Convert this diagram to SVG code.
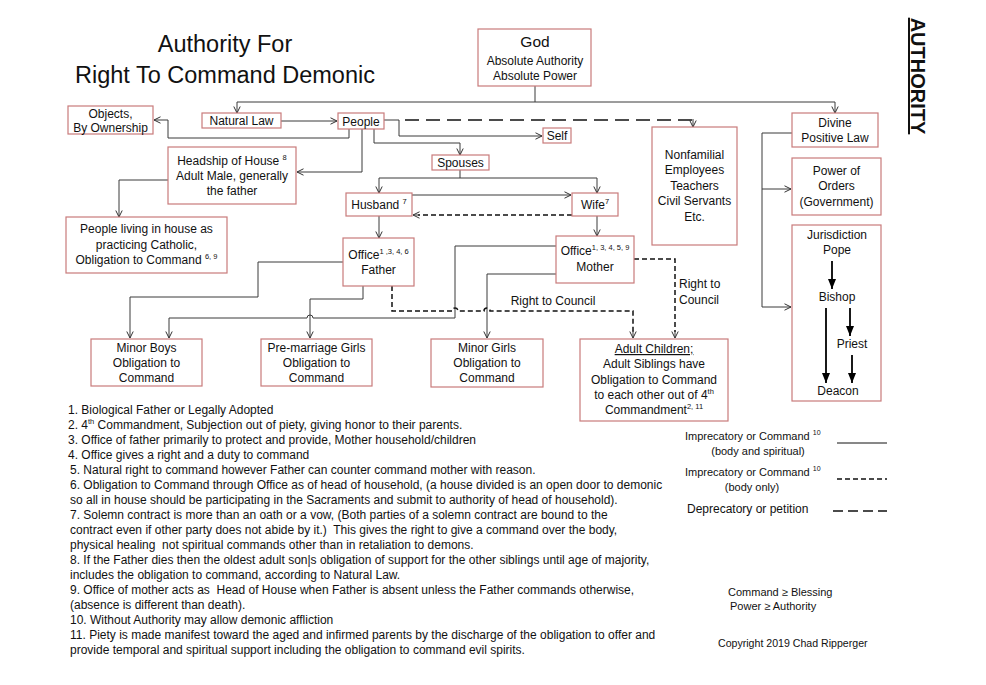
<svg xmlns="http://www.w3.org/2000/svg" width="986" height="685" viewBox="0 0 986 685">
<defs>
<marker id="oa" viewBox="0 0 8 8" refX="7.5" refY="4" markerWidth="8" markerHeight="8" markerUnits="userSpaceOnUse" orient="auto"><path d="M1,0.8 L7.5,4 L1,7.2" fill="none" stroke="#333" stroke-width="1"/></marker>
<marker id="fa" viewBox="0 0 10 8" refX="10" refY="4" markerWidth="10" markerHeight="8" markerUnits="userSpaceOnUse" orient="auto"><path d="M0,0 L10,4 L0,8 z" fill="#000"/></marker>
</defs>
<style>
.box{fill:#fff;stroke:#c97b7b;stroke-width:1.2}
.t{font-family:"Liberation Sans",Arial,sans-serif;font-size:12px;fill:#111;text-anchor:middle}
.fn{font-family:"Liberation Sans",Arial,sans-serif;font-size:12px;fill:#111}
.lg{font-family:"Liberation Sans",Arial,sans-serif;font-size:11px;fill:#111}
.sup{font-size:7.5px}
.c{fill:none;stroke:#3a3a3a;stroke-width:1}
.ca{marker-end:url(#oa)}
.d1{fill:none;stroke:#111;stroke-width:1.5;stroke-dasharray:5,3}
.d2{fill:none;stroke:#111;stroke-width:1.5;stroke-dasharray:14,7}
.th{fill:none;stroke:#000;stroke-width:1.8;marker-end:url(#fa)}
</style>
<rect width="986" height="685" fill="#fff"/>

<g id="title">
<text class="t" x="225" y="52" style="font-size:23.5px">Authority For</text>
<text class="t" x="225" y="83" style="font-size:23.5px">Right To Command Demonic</text>
</g>
<text transform="translate(911,76) rotate(90)" text-anchor="middle" font-family="Liberation Sans, Arial, sans-serif" font-size="20" font-weight="bold" text-decoration="underline" fill="#111">AUTHORITY</text>

<g id="connectors">
<path class="c" d="M535,86 V102 M237,102 H835"/>
<path class="c ca" d="M237,102 V113"/>
<path class="c ca" d="M835,102 V113"/>
<path class="c ca" d="M281,121 H337"/>
<path class="c ca" d="M349,129 V138 H168 V120 H154"/>
<path class="c ca" d="M384,120 H399 V136 H542"/>
<path class="d2" d="M405,120 H693 V121"/>
<path class="c ca" d="M693,119 V127"/>
<path class="c ca" d="M362,129 V172 H297"/>
<path class="c ca" d="M374,129 V143 H460 V155"/>
<path class="c ca" d="M168,180 H119 V217"/>
<path class="c" d="M460,170 V178 M379,178 H597"/>
<path class="c ca" d="M379,178 V193"/>
<path class="c ca" d="M597,178 V193"/>
<path class="c ca" d="M412,195 H571"/>
<path class="d1" d="M572,215 H418"/>
<path class="c ca" d="M420,215 H413"/>
<path class="c ca" d="M379,216 V238"/>
<path class="c ca" d="M597,216 V236"/>
<path class="c ca" d="M343,262 H258 V297 H130 V338"/>
<path class="c ca" d="M363,286 V299 H310 V338"/>
<path class="c ca" d="M556,246 H455 V318 H313 A3,3 0 0 0 307,318 H169 V338"/>
<path class="c ca" d="M556,274 H487 V338"/>
<path class="d1" d="M392,286 V311 H452 A3,3 0 0 1 458,311 H484 A3,3 0 0 1 490,311 H633 V332"/>
<path class="c ca" d="M633,330 V338"/>
<path class="d1" d="M634,259 H675 V332"/>
<path class="c ca" d="M675,330 V338"/>
<path class="c" d="M792,133 H762 V307"/>
<path class="c ca" d="M762,307 H791"/>
<path class="c ca" d="M762,189 H791"/>
</g>

<text class="t" x="553" y="305">Right to Council</text>
<text class="fn" x="679" y="288">Right to</text>
<text class="fn" x="679" y="304">Council</text>

<g id="god"><rect class="box" x="478" y="29" width="113" height="57"/>
<text class="t" x="535" y="47" style="font-size:15.5px">God</text>
<text class="t" x="535" y="65">Absolute Authority</text>
<text class="t" x="535" y="80">Absolute Power</text></g>

<g id="objects"><rect class="box" x="68" y="106" width="85" height="28"/>
<text class="t" x="110.5" y="118">Objects,</text>
<text class="t" x="110.5" y="132">By Ownership</text></g>

<g id="naturallaw"><rect class="box" x="202" y="113" width="79" height="15"/>
<text class="t" x="241.5" y="125">Natural Law</text></g>

<g id="people"><rect class="box" x="338" y="113" width="46" height="16"/>
<text class="t" x="361" y="126">People</text></g>

<g id="self"><rect class="box" x="543" y="128" width="28" height="15"/>
<text class="t" x="557" y="140">Self</text></g>

<g id="spouses"><rect class="box" x="432" y="155" width="57" height="15"/>
<text class="t" x="460.5" y="167">Spouses</text></g>

<g id="headship"><rect class="box" x="168" y="147" width="128" height="57"/>
<text class="t" x="232" y="165">Headship of House <tspan class="sup" dy="-5">8</tspan></text>
<text class="t" x="232" y="180">Adult Male, generally</text>
<text class="t" x="232" y="195">the father</text></g>

<g id="peopleliving"><rect class="box" x="66" y="217" width="161" height="56"/>
<text class="t" x="146.5" y="233">People living in house as</text>
<text class="t" x="146.5" y="249">practicing Catholic,</text>
<text class="t" x="146.5" y="264">Obligation to Command <tspan class="sup" dy="-5">6, 9</tspan></text></g>

<g id="husband"><rect class="box" x="346" y="193" width="66" height="23"/>
<text class="t" x="379" y="209">Husband <tspan class="sup" dy="-5">7</tspan></text></g>

<g id="wife"><rect class="box" x="572" y="193" width="46" height="23"/>
<text class="t" x="595" y="209">Wife<tspan class="sup" dy="-5">7</tspan></text></g>

<g id="officefather"><rect class="box" x="343" y="238" width="71" height="48"/>
<text class="t" x="378.5" y="259">Office<tspan class="sup" dy="-5">1 ,3, 4, 6</tspan></text>
<text class="t" x="378.5" y="274">Father</text></g>

<g id="officemother"><rect class="box" x="556" y="236" width="78" height="47"/>
<text class="t" x="595" y="255">Office<tspan class="sup" dy="-5">1, 3, 4, 5, 9</tspan></text>
<text class="t" x="595" y="271">Mother</text></g>

<g id="minorboys"><rect class="box" x="91" y="339" width="111" height="47"/>
<text class="t" x="146.5" y="352">Minor Boys</text>
<text class="t" x="146.5" y="367">Obligation to</text>
<text class="t" x="146.5" y="382">Command</text></g>

<g id="premarriage"><rect class="box" x="261" y="339" width="111" height="47"/>
<text class="t" x="316.5" y="352">Pre-marriage Girls</text>
<text class="t" x="316.5" y="367">Obligation to</text>
<text class="t" x="316.5" y="382">Command</text></g>

<g id="minorgirls"><rect class="box" x="431" y="339" width="112" height="48"/>
<text class="t" x="487" y="352">Minor Girls</text>
<text class="t" x="487" y="367">Obligation to</text>
<text class="t" x="487" y="382">Command</text></g>

<g id="adultchildren"><rect class="box" x="580" y="339" width="148" height="82"/>
<text class="t" x="654" y="353" text-decoration="underline">Adult Children;</text>
<text class="t" x="654" y="368">Adult Siblings have</text>
<text class="t" x="654" y="384">Obligation to Command</text>
<text class="t" x="654" y="399">to each other out of 4<tspan class="sup" dy="-5">th</tspan></text>
<text class="t" x="654" y="414">Commandment<tspan class="sup" dy="-5">2, 11</tspan></text></g>

<g id="nonfamilial"><rect class="box" x="652" y="127" width="85" height="118"/>
<text class="t" x="694.5" y="159">Nonfamilial</text>
<text class="t" x="694.5" y="174">Employees</text>
<text class="t" x="694.5" y="190">Teachers</text>
<text class="t" x="694.5" y="205">Civil Servants</text>
<text class="t" x="694.5" y="221">Etc.</text></g>

<g id="divine"><rect class="box" x="792" y="113" width="86" height="34"/>
<text class="t" x="835" y="127">Divine</text>
<text class="t" x="835" y="142">Positive Law</text></g>

<g id="orders"><rect class="box" x="792" y="158" width="89" height="57"/>
<text class="t" x="836.5" y="175">Power of</text>
<text class="t" x="836.5" y="190">Orders</text>
<text class="t" x="836.5" y="206">(Government)</text></g>

<g id="jurisdiction"><rect class="box" x="792" y="225" width="89" height="176"/>
<text class="t" x="837" y="239">Jurisdiction</text>
<text class="t" x="837" y="254">Pope</text>
<text class="t" x="837" y="301">Bishop</text>
<text class="t" x="852" y="348">Priest</text>
<text class="t" x="838" y="395">Deacon</text>
<path class="th" d="M832,261 V289"/>
<path class="th" d="M826,308 V383"/>
<path class="th" d="M850,308 V336"/>
<path class="th" d="M852,355 V383"/>
</g>

<g id="footnotes">
<text class="fn" x="68" y="414">1. Biological Father or Legally Adopted</text>
<text class="fn" x="68" y="429">2. 4<tspan class="sup" dy="-5">th</tspan><tspan dy="5"> Commandment, Subjection out of piety, giving honor to their parents.</tspan></text>
<text class="fn" x="68" y="444">3. Office of father primarily to protect and provide, Mother household/children</text>
<text class="fn" x="68" y="459">4. Office gives a right and a duty to command</text>
<text class="fn" x="70" y="474">5. Natural right to command however Father can counter command mother with reason.</text>
<text class="fn" x="70" y="489">6. Obligation to Command through Office as of head of household, (a house divided is an open door to demonic</text>
<text class="fn" x="70" y="504">so all in house should be participating in the Sacraments and submit to authority of head of household).</text>
<text class="fn" x="70" y="519">7. Solemn contract is more than an oath or a vow, (Both parties of a solemn contract are bound to the</text>
<text class="fn" x="70" y="534" xml:space="preserve">contract even if other party does not abide by it.)  This gives the right to give a command over the body,</text>
<text class="fn" x="70" y="549" xml:space="preserve">physical healing  not spiritual commands other than in retaliation to demons.</text>
<text class="fn" x="70" y="564">8. If the Father dies then the oldest adult son|s obligation of support for the other siblings until age of majority,</text>
<text class="fn" x="70" y="579">includes the obligation to command, according to Natural Law.</text>
<text class="fn" x="70" y="594" xml:space="preserve">9. Office of mother acts as  Head of House when Father is absent unless the Father commands otherwise,</text>
<text class="fn" x="70" y="609">(absence is different than death).</text>
<text class="fn" x="70" y="624">10. Without Authority may allow demonic affliction</text>
<text class="fn" x="70" y="639">11. Piety is made manifest toward the aged and infirmed parents by the discharge of the obligation to offer and</text>
<text class="fn" x="70" y="654">provide temporal and spiritual support including the obligation to command evil spirits.</text>
</g>

<g id="legend">
<text class="lg" x="685" y="440">Imprecatory or Command <tspan font-size="7" dy="-5">10</tspan></text>
<path d="M837,443 H887" fill="none" stroke="#111" stroke-width="1"/>
<text class="lg" x="758" y="455" text-anchor="middle">(body and spiritual)</text>
<text class="lg" x="685" y="476">Imprecatory or Command <tspan font-size="7" dy="-5">10</tspan></text>
<path d="M837,479 H887" fill="none" stroke="#111" stroke-width="1.5" stroke-dasharray="5,3"/>
<text class="lg" x="752" y="491" text-anchor="middle">(body only)</text>
<text class="lg" x="687" y="513" style="font-size:12px">Deprecatory or petition</text>
<path d="M833,511 H887" fill="none" stroke="#111" stroke-width="1.5" stroke-dasharray="10,5"/>
<text class="lg" x="728" y="596">Command ≥ Blessing</text>
<text class="lg" x="730" y="610">Power ≥ Authority</text>
<text class="lg" x="718" y="647" style="font-size:10.6px">Copyright 2019 Chad Ripperger</text>
</g>
</svg>
